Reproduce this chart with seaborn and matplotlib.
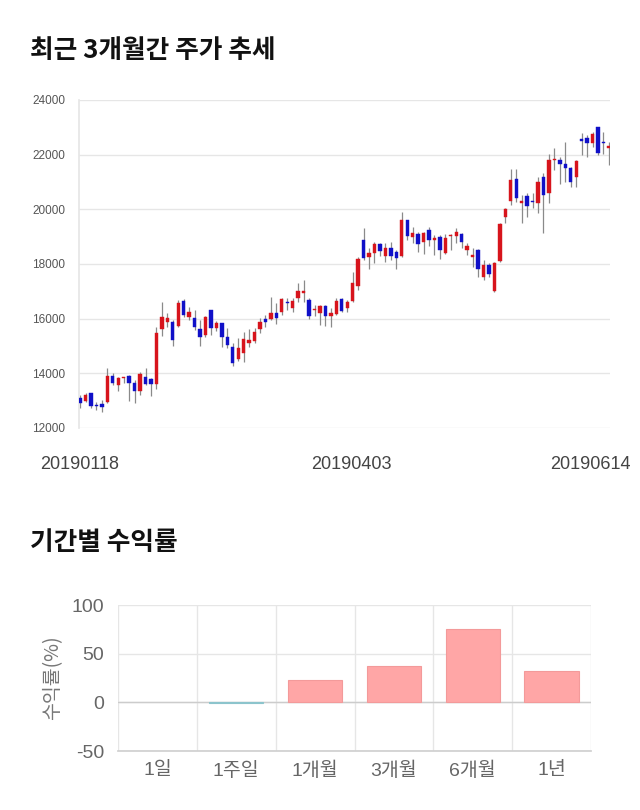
import numpy as np
import pandas as pd
import matplotlib
matplotlib.use("Agg")
import matplotlib.pyplot as plt
import matplotlib.transforms as mtransforms
import seaborn as sns

# ---------------- data ----------------
opens = [13090, 12998, 13272, 12840, 12882, 12967, 13906, 13577, 13820, 13906,
         13662, 13370, 13858, 13797, 13613, 15613, 15893, 15893, 15735, 16661,
         16052, 16015, 15613, 15406, 16320, 15650, 15857, 15320, 14978, 14516,
         14760, 15101, 15198, 15613, 15979, 15979, 16222, 16259, 16625, 16381,
         16747, 16954, 16686, 16300, 16198, 16466, 16100, 16161, 16735, 16393,
         16649, 17198, 18868, 18270, 18417, 18722, 18307, 18575, 18453, 18307,
         19611, 19002, 19099, 18795, 19246, 18880, 19002, 18417, 19010, 19026,
         19099, 18514, 18270, 18514, 17515, 17965, 17015, 18124, 19709, 20318,
         21099, 20221, 20501, 20290, 20221, 21196, 20611, 21790, 21805, 21647,
         21500, 21196, 22561, 22598, 22415, 23000, 22451, 22250]
highs = [13211, 13272, 13272, 12967, 13028, 14187, 14004, 13880, 13880, 13943,
         13760, 14065, 14187, 13820, 15710, 16625, 16200, 15950, 16686, 16710,
         16442, 16320, 15954, 16100, 16320, 15900, 15857, 15649, 15101, 15284,
         15528, 15613, 15650, 16015, 16137, 16808, 16564, 16747, 16747, 16747,
         17295, 17417, 16747, 16503, 16503, 16503, 16381, 16747, 16747, 16686,
         17722, 18270, 19306, 18575, 18819, 18758, 18758, 18819, 18514, 19891,
         19611, 19367, 19185, 19185, 19367, 19063, 19063, 19099, 19099, 19306,
         19124, 18758, 18575, 18538, 18148, 18026, 18087, 19489, 20038, 21464,
         21464, 20525, 20586, 20586, 21196, 21318, 22025, 22232, 21927, 22476,
         21562, 21805, 22781, 22720, 22841, 23024, 22841, 22476]
lows = [12724, 12968, 12724, 12663, 12602, 12930, 13577, 13370, 13640, 13004,
        12907, 13212, 13590, 13175, 13418, 15369, 15700, 15003, 15700, 16076,
        15954, 15589, 15015, 15345, 15406, 15550, 14978, 14918, 14272, 14467,
        14431, 14979, 15101, 15491, 15710, 15954, 15808, 16137, 16320, 16259,
        16625, 16625, 15979, 16101, 15771, 15735, 15710, 16137, 16235, 16259,
        16625, 17051, 18148, 17807, 18051, 18295, 18087, 18148, 17807, 18270,
        18880, 18758, 18453, 18368, 18660, 18331, 18173, 18368, 18514, 18758,
        18575, 18331, 17905, 17539, 17417, 17539, 16990, 18087, 19489, 20160,
        20282, 19489, 19733, 20038, 19855, 19124, 20221, 21440, 20928, 21013,
        20830, 20806, 21988, 21903, 22293, 21988, 22025, 21622]
closes = [12907, 13212, 12809, 12810, 12760, 13906, 13662, 13820, 13840, 13662,
          13370, 13967, 13613, 13613, 15467, 16052, 16015, 15223, 16588, 16137,
          16259, 15711, 15320, 16052, 15650, 15857, 15320, 15040, 14394, 14918,
          15247, 15223, 15503, 15893, 15893, 16222, 16015, 16710, 16564, 16661,
          17027, 17027, 16100, 16330, 16466, 16100, 16222, 16661, 16271, 16613,
          17295, 18173, 18210, 18417, 18722, 18478, 18575, 18307, 18210, 19611,
          19026, 19124, 18722, 19124, 18880, 18966, 18514, 18966, 19040, 19160,
          18819, 18661, 18331, 17807, 17965, 17624, 18051, 19465, 20001, 21074,
          20404, 20306, 20123, 20250, 21013, 20526, 21805, 21820, 21659, 21500,
          21013, 21757, 22500, 22415, 22756, 22049, 22415, 22310]
date_ticks = ["20190118", "20190403", "20190614"]
price_ticks = [12000, 14000, 16000, 18000, 20000, 22000, 24000]

periods = ["1일", "1주일", "1개월", "3개월", "6개월", "1년"]
returns = [0.0, -0.3, 22.9, 37.3, 75.3, 31.8]

# ---------------- style ----------------
sns.set_theme(style="white")
plt.rcParams["font.family"] = ["Liberation Sans", "Noto Sans CJK KR", "DejaVu Sans"]
KR = ["Noto Sans CJK KR", "DejaVu Sans"]

fig = plt.figure(figsize=(6.4, 8.1), dpi=100)

# ---------------- titles ----------------
fig.text(30 / 640, 1 - 50 / 810, "최근 3개월간 주가 추세", family=KR,
         fontsize=18.5, fontweight="bold", va="center", ha="left", color="#111111")
fig.text(30 / 640, 1 - 543 / 810, "기간별 수익률", family=KR,
         fontsize=18.5, fontweight="bold", va="center", ha="left", color="#111111")

# ---------------- candlestick ----------------
ax1 = fig.add_axes([79 / 640, 1 - 428 / 810, 531 / 640, 328 / 810])
df = pd.DataFrame({"open": opens, "high": highs, "low": lows, "close": closes})
df["idx"] = np.arange(len(df))
df["up"] = df["close"] >= df["open"]
up_col, dn_col = "#d7141c", "#1010c8"
ax1.vlines(df["idx"], df["low"], df["high"], color="#8a8a8a", linewidth=0.9, zorder=2)
body_bottom = np.minimum(df["open"], df["close"])
body_h = np.maximum(np.abs(df["close"] - df["open"]), 40)
colors = [up_col if u else dn_col for u in df["up"]]
ax1.bar(df["idx"], body_h, bottom=body_bottom, width=0.62, color=colors,
        edgecolor=colors, linewidth=0.3, zorder=3)

ax1.set_ylim(12000, 24000)
ax1.set_xlim(-0.2, len(df) - 1 + 0.2)
ax1.set_yticks(price_ticks)
ax1.set_yticklabels([str(v) for v in price_ticks], fontsize=8.5, color="#555555")
ax1.grid(axis="y", color="#e6e6e6", linewidth=1)
ax1.grid(axis="x", visible=False)
for s in ["top", "right", "bottom"]:
    ax1.spines[s].set_visible(False)
ax1.spines["left"].set_color("#e6e6e6")
ax1.tick_params(axis="y", length=0, pad=10)
tick_pos = [0, (len(df) - 1) // 2 + 1, len(df) - 1]
ax1.set_xticks(tick_pos)
ax1.set_xticklabels(date_ticks, fontsize=13, color="#444444")
ax1.tick_params(axis="x", length=0, pad=20)
offsets = [0, 4, -19]
for lab, dx in zip(ax1.get_xticklabels(), offsets):
    lab.set_transform(lab.get_transform() +
                      mtransforms.ScaledTranslation(dx / 100, 0, fig.dpi_scale_trans))

# ---------------- returns bar chart ----------------
ax2 = fig.add_axes([118 / 640, 1 - 751 / 810, 473 / 640, 146 / 810])
rdf = pd.DataFrame({"period": periods, "ret": returns})
bar_cols = ["#ffa6a6" if v >= 0 else "#9fd0d8" for v in returns]
edge_cols = ["#f39a9a" if v >= 0 else "#8cc4cc" for v in returns]
sns.barplot(data=rdf, x="period", y="ret", hue="period", palette=bar_cols,
            saturation=1, legend=False, width=0.69, ax=ax2, linewidth=0.8,
            zorder=3)
for patch, v, ec in zip(ax2.patches, returns, edge_cols):
    patch.set_edgecolor(ec)
    if v == 0:
        patch.set_linewidth(0)
ax2.set_ylim(-50, 100)
ax2.set_xlim(-0.5, len(periods) - 0.5)
ax2.set_yticks([-50, 0, 50, 100])
ax2.set_yticklabels(["-50", "0", "50", "100"], fontsize=14, color="#666666")
ax2.set_xticks(range(len(periods)))
ax2.set_xticklabels(periods, fontsize=14, color="#666666")
ax2.set_xticks(np.arange(-0.5, len(periods), 1.0), minor=True)
ax2.tick_params(axis="x", which="major", length=0, pad=8)
ax2.tick_params(axis="x", which="minor", length=6, color="#e6e6e6", width=1, direction="out")
ax2.tick_params(axis="y", length=0, pad=10)
ax2.grid(axis="y", color="#e6e6e6", linewidth=1, zorder=0)
ax2.grid(axis="x", which="minor", color="#e6e6e6", linewidth=1, zorder=0)
ax2.grid(axis="x", which="major", visible=False)
ax2.axhline(0, color="#cccccc", linewidth=1, zorder=2)
for s in ["top", "right", "left"]:
    ax2.spines[s].set_visible(False)
ax2.spines["bottom"].set_color("#d0d0d0")
ax2.set_xlabel("")
ax2.set_ylabel("수익률(%)", family=KR, fontsize=14, color="#777777", labelpad=6)

fig.savefig("out.png", dpi=100, facecolor="white")
